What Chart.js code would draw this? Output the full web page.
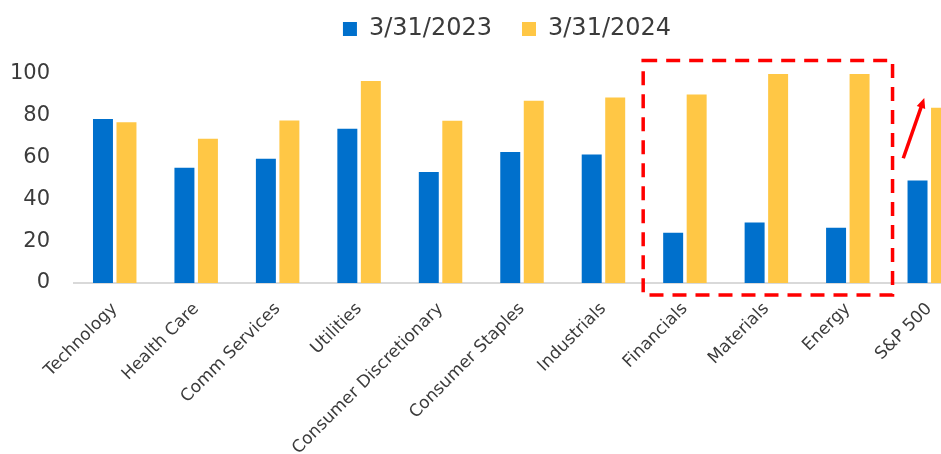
<!DOCTYPE html>
<html>
<head>
<meta charset="utf-8">
<script src="https://cdn.jsdelivr.net/npm/chart.js@4.4.1/dist/chart.umd.min.js"></script>
<style>
  html, body { margin: 0; padding: 0; background: #fff; overflow: hidden; }
  #wrap { width: 975px; height: 454px; }
</style>
</head>
<body>
<div id="wrap"><canvas id="breadth-chart" width="975" height="454"></canvas></div>
<script>
let sectors = ['Technology', 'Health Care', 'Comm Services', 'Utilities', 'Consumer Discretionary',
    'Consumer Staples', 'Industrials', 'Financials', 'Materials', 'Energy', 'S&P 500']
let seriesNames = ['3/31/2023', '3/31/2024']
let values2023 = [78.5, 55.1, 59.4, 73.8, 53.1, 62.7, 61.5, 24, 28.9, 26.4, 49.1]
let values2024 = [76.9, 69, 77.7, 96.7, 77.6, 87.2, 88.8, 90.2, 100, 100, 83.9]
let yTicks = [0, 20, 40, 60, 80, 100]

let blue = '#0070cc'
let gold = '#ffc745'
let textColor = '#3b3b3b'

// extra room under the legend, and nudge it right like the original
let legendSpace = {
    id: 'legendSpace',
    beforeLayout(chart) {
        let lg = chart.legend
        if (lg && !lg._patched) {
            let fit = lg.fit.bind(lg)
            lg.fit = function () { fit(); this.height += 23 }
            lg._patched = true
        }
    },
    afterLayout(chart) {
        chart.legend.left += 21
        chart.legend.right += 21
    }
}

// red dashed box round the last three sectors + arrow next to the S&P 500 bars
let highlight = {
    id: 'highlight',
    afterDatasetsDraw(chart) {
        let ctx = chart.ctx
        let x = chart.scales.x
        let y = chart.scales.y
        let step = x.getPixelForValue(1) - x.getPixelForValue(0)
        let left = x.getPixelForValue(7) - step / 2 - 1
        let right = x.getPixelForValue(9) + step / 2 + 4
        let top = y.getPixelForValue(106.5)
        let bottom = y.getPixelForValue(0) + 12
        ctx.save()
        ctx.strokeStyle = '#ff0000'
        ctx.lineWidth = 3.5
        ctx.setLineDash([14, 9])
        ctx.strokeRect(left, top, right - left, bottom - top)
        ctx.setLineDash([])

        let sp = x.getPixelForValue(10)
        let x0 = sp - 26, y0 = y.getPixelForValue(59.7)
        let x1 = sp - 5, y1 = y.getPixelForValue(88.5)
        let ang = Math.atan2(y1 - y0, x1 - x0)
        let head = 11
        ctx.lineWidth = 3.5
        ctx.beginPath()
        ctx.moveTo(x0, y0)
        ctx.lineTo(x1 - Math.cos(ang) * head * 0.8, y1 - Math.sin(ang) * head * 0.8)
        ctx.stroke()
        ctx.fillStyle = '#ff0000'
        ctx.beginPath()
        ctx.moveTo(x1, y1)
        ctx.lineTo(x1 - head * Math.cos(ang - 0.42), y1 - head * Math.sin(ang - 0.42))
        ctx.lineTo(x1 - head * Math.cos(ang + 0.42), y1 - head * Math.sin(ang + 0.42))
        ctx.closePath()
        ctx.fill()
        ctx.restore()
    }
}

let chart = new Chart(document.getElementById('breadth-chart'), {
    type: 'bar',
    data: {
        labels: sectors,
        datasets: [
            { label: seriesNames[0], data: values2023, backgroundColor: blue },
            { label: seriesNames[1], data: values2024, backgroundColor: gold }
        ]
    },
    options: {
        responsive: false,
        animation: false,
        categoryPercentage: 0.577,
        barPercentage: 0.85,
        layout: { padding: { top: -13, left: 2, right: 5, bottom: 0 } },
        plugins: {
            tooltip: { enabled: false },
            legend: {
                position: 'top',
                labels: {
                    color: textColor,
                    font: { family: 'DejaVu Sans', size: 24 },
                    boxWidth: 14,
                    boxHeight: 14,
                    padding: 30
                }
            }
        },
        scales: {
            x: {
                grid: { display: false },
                border: { display: true, color: '#d9d9d9', width: 2 },
                ticks: {
                    color: textColor,
                    font: { family: 'DejaVu Sans', size: 17 },
                    minRotation: 45,
                    maxRotation: 45,
                    autoSkip: false,
                    padding: 8
                },
                afterFit(scale) {
                    scale.height = 171
                    scale.paddingLeft = 0
                    scale.paddingRight = 0
                }
            },
            y: {
                min: 0,
                max: 100,
                grid: { display: false },
                border: { display: false },
                afterBuildTicks(scale) { scale.ticks = yTicks.map(v => ({ value: v })) },
                afterFit(scale) { scale.width = 72 },
                ticks: {
                    color: textColor,
                    font: { family: 'DejaVu Sans', size: 21 },
                    padding: 16
                }
            }
        }
    },
    plugins: [legendSpace, highlight]
})
</script>
</body>
</html>
